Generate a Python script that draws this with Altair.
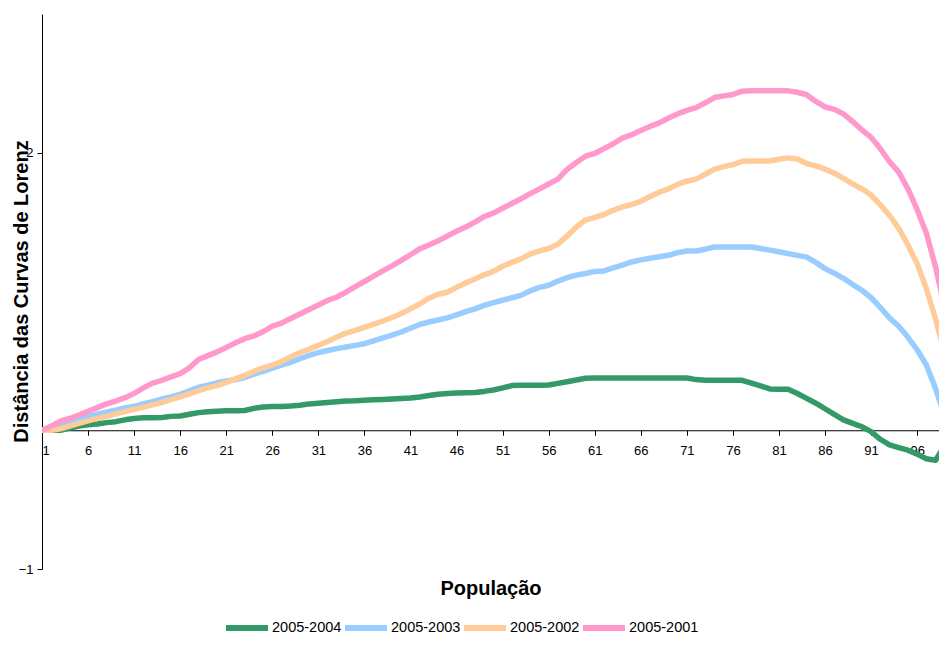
import altair as alt
import pandas as pd

populacao = list(range(1, 101))

s2004 = [0, 0, 0, 0.015, 0.03, 0.04, 0.045, 0.055, 0.062, 0.075,
         0.085, 0.09, 0.09, 0.092, 0.1, 0.103, 0.115, 0.127, 0.133, 0.137,
         0.14, 0.14, 0.142, 0.158, 0.168, 0.171, 0.172, 0.175, 0.18, 0.19,
         0.195, 0.2, 0.205, 0.21, 0.212, 0.216, 0.22, 0.222, 0.225, 0.228,
         0.232, 0.24, 0.25, 0.26, 0.265, 0.268, 0.27, 0.272, 0.28, 0.29,
         0.305, 0.322, 0.324, 0.324, 0.324, 0.326, 0.338, 0.35, 0.362, 0.375,
         0.377, 0.377, 0.377, 0.377, 0.377, 0.377, 0.377, 0.377, 0.377, 0.377,
         0.377, 0.365, 0.36, 0.36, 0.36, 0.36, 0.36, 0.34, 0.32, 0.298,
         0.295, 0.295, 0.265, 0.23, 0.195, 0.155, 0.115, 0.075, 0.05, 0.025,
         -0.01, -0.065, -0.105, -0.125, -0.144, -0.172, -0.205, -0.216, -0.11, 0]

s2003 = [0, 0.02, 0.04, 0.06, 0.08, 0.1, 0.115, 0.13, 0.145, 0.16,
         0.172, 0.19, 0.206, 0.225, 0.24, 0.259, 0.285, 0.31, 0.325, 0.342,
         0.355, 0.365, 0.38, 0.405, 0.425, 0.448, 0.47, 0.49, 0.515, 0.54,
         0.56, 0.575, 0.588, 0.6, 0.612, 0.624, 0.645, 0.665, 0.685, 0.708,
         0.735, 0.762, 0.78, 0.795, 0.81, 0.832, 0.855, 0.875, 0.9, 0.92,
         0.937, 0.955, 0.972, 1.005, 1.03, 1.045, 1.075, 1.1, 1.118, 1.13,
         1.145, 1.148, 1.17, 1.19, 1.213, 1.228, 1.24, 1.25, 1.261, 1.28,
         1.292, 1.292, 1.305, 1.321, 1.321, 1.321, 1.321, 1.321, 1.31, 1.298,
         1.286, 1.273, 1.26, 1.248, 1.21, 1.165, 1.132, 1.095, 1.05, 1.009,
         0.955, 0.885, 0.81, 0.75, 0.67, 0.58, 0.47, 0.3, 0.1, -0.05]

s2002 = [0, 0, 0.01, 0.03, 0.05, 0.067, 0.085, 0.1, 0.118, 0.135,
         0.15, 0.165, 0.183, 0.2, 0.22, 0.24, 0.262, 0.285, 0.305, 0.322,
         0.345, 0.37, 0.395, 0.425, 0.45, 0.47, 0.495, 0.53, 0.56, 0.585,
         0.612, 0.64, 0.672, 0.7, 0.72, 0.742, 0.765, 0.787, 0.813, 0.841,
         0.875, 0.91, 0.952, 0.98, 0.995, 1.03, 1.062, 1.09, 1.12, 1.145,
         1.182, 1.21, 1.235, 1.27, 1.293, 1.31, 1.34, 1.4, 1.465, 1.515,
         1.535, 1.555, 1.585, 1.61, 1.627, 1.65, 1.685, 1.715, 1.74, 1.772,
         1.795, 1.81, 1.845, 1.882, 1.9, 1.915, 1.938, 1.941, 1.941, 1.941,
         1.953, 1.963, 1.955, 1.922, 1.905, 1.882, 1.853, 1.815, 1.775, 1.74,
         1.695, 1.625, 1.548, 1.455, 1.335, 1.2, 1.02, 0.8, 0.55, 0.17]

s2001 = [0, 0.03, 0.065, 0.085, 0.11, 0.137, 0.163, 0.19, 0.21, 0.235,
         0.265, 0.305, 0.34, 0.36, 0.385, 0.408, 0.45, 0.51, 0.538, 0.565,
         0.597, 0.63, 0.66, 0.68, 0.71, 0.75, 0.772, 0.805, 0.838, 0.87,
         0.903, 0.935, 0.96, 0.995, 1.035, 1.072, 1.11, 1.148, 1.185, 1.225,
         1.265, 1.307, 1.335, 1.365, 1.4, 1.435, 1.465, 1.5, 1.54, 1.565,
         1.6, 1.634, 1.668, 1.705, 1.74, 1.775, 1.81, 1.88, 1.93, 1.975,
         1.995, 2.03, 2.065, 2.105, 2.13, 2.16, 2.19, 2.215, 2.25, 2.28,
         2.305, 2.325, 2.36, 2.398, 2.41, 2.42, 2.444, 2.446, 2.446, 2.446,
         2.446, 2.446, 2.436, 2.418, 2.37, 2.33, 2.313, 2.28, 2.225, 2.165,
         2.11, 2.03, 1.935, 1.86, 1.74, 1.59, 1.42, 1.177, 0.88, 0.48]

series_names = ["2005-2004", "2005-2003", "2005-2002", "2005-2001"]
series_values = [s2004, s2003, s2002, s2001]
series_colors = ["#339966", "#99CCFF", "#FFCC99", "#FF99CC"]

x_ticks = list(range(1, 97, 5))
y_ticks = [-1, 2]

rows = []
for name, vals in zip(series_names, series_values):
    for p, v in zip(populacao, vals):
        rows.append({"Populacao": p, "Distancia": v, "Serie": name})
df = pd.DataFrame(rows)

font = "Liberation Sans"

chart = alt.Chart(df).mark_line(strokeWidth=5.5, clip=True, strokeJoin="round").encode(
    x=alt.X("Populacao:Q",
            scale=alt.Scale(domain=[1, 98.37], nice=False, zero=False),
            axis=alt.Axis(values=x_ticks, format="d", title="População",
                          offset=-138.75, grid=False,
                          domainColor="#000000", tickColor="#000000",
                          tickSize=5, labelPadding=9,
                          labelFont=font, labelFontSize=13, labelColor="#000000",
                          titleFont=font, titleFontSize=20, titleFontWeight="bold",
                          titleColor="#000000", titleBaseline="middle", titleY=158)),
    y=alt.Y("Distancia:Q",
            scale=alt.Scale(domain=[-1, 3], nice=False, zero=False),
            axis=alt.Axis(values=y_ticks, format="d", title="Distância das Curvas de Lorenz",
                          grid=False, domainColor="#000000", tickColor="#000000",
                          tickSize=5, labelPadding=4,
                          labelFont=font, labelFontSize=13, labelColor="#000000",
                          titleFont=font, titleFontSize=20, titleFontWeight="bold",
                          titleColor="#000000", titleBaseline="alphabetic",
                          titleX=-15, titleY=277)),
    color=alt.Color("Serie:N",
                    scale=alt.Scale(domain=series_names, range=series_colors),
                    sort=series_names,
                    legend=alt.Legend(title=None, orient="none", direction="horizontal",
                                      legendX=181, legendY=590,
                                      symbolType="stroke", symbolSize=1764,
                                      symbolStrokeWidth=6, labelOffset=1,
                                      columnPadding=-9, padding=0,
                                      labelFont=font,
                                      labelFontSize=14.5, labelColor="#000000")),
    order=alt.Order("Populacao:Q"),
).properties(
    width=897, height=555,
    autosize=alt.AutoSizeParams(type="none"),
    padding={"left": 34, "top": 6, "right": 0, "bottom": 71},
    background="#ffffff",
).configure_view(stroke=None)

chart.save("out.html", embed_options={"renderer": "svg", "actions": False})
